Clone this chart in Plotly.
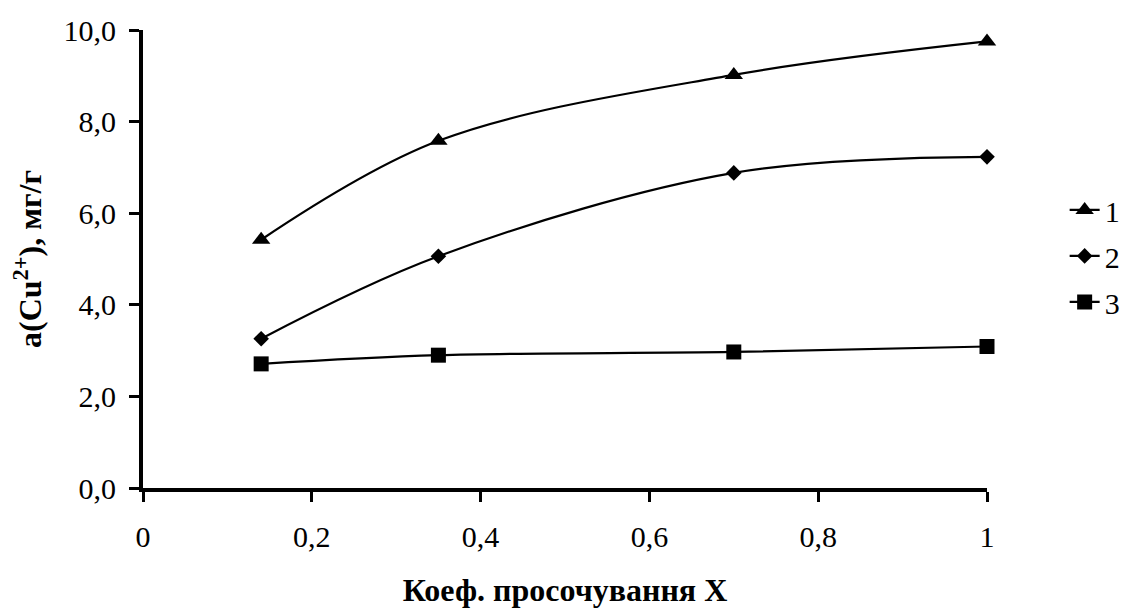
import plotly.graph_objects as go

# Filtration coefficient X and Cu2+ uptake (mg/g) for three samples
x_values = [0.14, 0.35, 0.70, 1.00]
series_1 = [5.42, 7.58, 9.02, 9.75]
series_2 = [3.26, 5.06, 6.88, 7.23]
series_3 = [2.71, 2.90, 2.97, 3.09]
series_names = ["1", "2", "3"]
marker_symbols = ["triangle-up", "diamond", "square"]
marker_sizes = [16, 12, 15]

FONT = "Liberation Serif"

fig = go.Figure()
for name, ys, sym, size in zip(series_names, [series_1, series_2, series_3],
                               marker_symbols, marker_sizes):
    fig.add_trace(go.Scatter(
        x=x_values, y=ys, name=name, legendgroup=name,
        mode="lines+markers", cliponaxis=False,
        line=dict(color="black", width=2.2, shape="spline", smoothing=1),
        marker=dict(symbol=sym, size=size, color="black"),
    ))

axis_common = dict(
    showline=True, linecolor="black", linewidth=4,
    ticks="outside", ticklen=10, tickwidth=3, tickcolor="black",
    showgrid=False, zeroline=False,
    tickfont=dict(family=FONT, size=30, color="black"),
)

fig.update_layout(
    width=1122, height=608,
    margin=dict(l=143, r=135, t=30, b=120, autoexpand=False),
    paper_bgcolor="white", plot_bgcolor="white",
    separators=", ",
    font=dict(family=FONT, color="black"),
    xaxis=dict(range=[0, 1], tick0=0, dtick=0.2, ticklabelstandoff=9,
               title=dict(text="<b>Коеф. просочування X</b>",
                          font=dict(family=FONT, size=32, color="black"),
                          standoff=29),
               **axis_common),
    yaxis=dict(range=[0, 10], tick0=0, dtick=2, tickformat=".1f",
               ticklabelstandoff=7,
               title=dict(text="<b>a(Cu<sup>2+</sup>), мг/г</b>",
                          font=dict(family=FONT, size=32, color="black"),
                          standoff=13),
               **axis_common),
    legend=dict(x=1.092, xanchor="left", y=0.664, yanchor="top",
                font=dict(family=FONT, size=30, color="black"),
                tracegroupgap=4, itemwidth=30,
                bgcolor="rgba(0,0,0,0)"),
)

fig.write_html("out.html")
